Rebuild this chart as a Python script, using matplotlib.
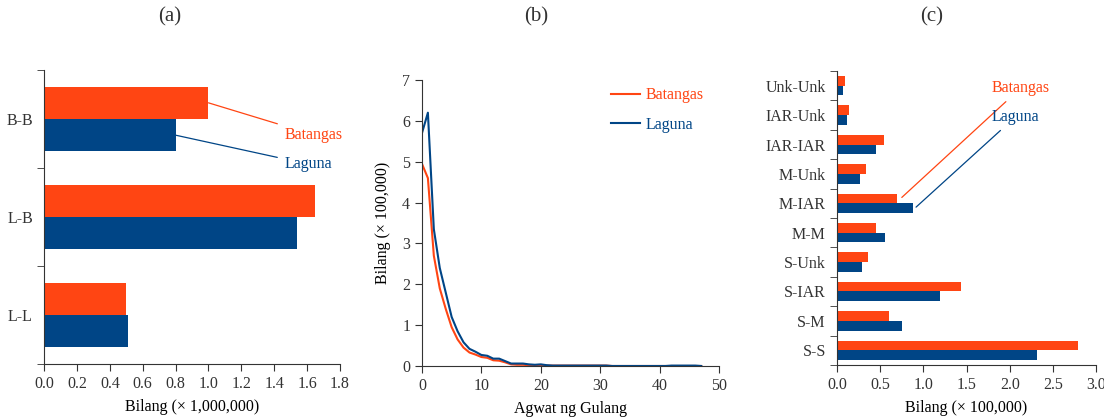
import numpy as np
import matplotlib
matplotlib.use('Agg')
import matplotlib.pyplot as plt

plt.rcParams['font.family'] = ['Liberation Serif', 'DejaVu Serif']
plt.rcParams['font.size'] = 11.5
plt.rcParams['text.color'] = '#333333'
plt.rcParams['axes.edgecolor'] = '#333333'
plt.rcParams['xtick.color'] = '#333333'
plt.rcParams['ytick.color'] = '#333333'

ORANGE = '#ff4513'
BLUE = '#004586'
FS = 11.5

# (a) pares ng rehiyon (mula ibaba pataas)
cats_a = ['L-L', 'L-B', 'B-B']
bat_a = [0.50, 1.65, 1.00]
lag_a = [0.51, 1.54, 0.80]

# (b) agwat ng gulang
agwat = list(range(48))
bat_b = [4.95, 4.60, 2.70, 1.90, 1.40, 0.95, 0.65, 0.45, 0.33, 0.28,
         0.22, 0.20, 0.14, 0.13, 0.09, 0.04, 0.03, 0.03, 0.02, 0.01,
         0.02, 0.01, 0.01, 0.01, 0.01, 0.01, 0.01, 0.01, 0.01, 0.01,
         0.01, 0.01, 0.00, 0.00, 0.00, 0.00, 0.00, 0.00, 0.00, 0.00,
         0.00, 0.00, 0.00, 0.00, 0.00, 0.00, 0.00, 0.00]
lag_b = [5.70, 6.20, 3.35, 2.40, 1.80, 1.20, 0.85, 0.58, 0.42, 0.35,
         0.27, 0.25, 0.18, 0.18, 0.12, 0.06, 0.06, 0.06, 0.04, 0.03,
         0.04, 0.02, 0.01, 0.01, 0.01, 0.01, 0.01, 0.01, 0.01, 0.01,
         0.01, 0.01, 0.00, 0.00, 0.00, 0.00, 0.00, 0.00, 0.00, 0.00,
         0.00, 0.00, 0.01, 0.01, 0.01, 0.01, 0.01, 0.00]

# (c) pares ng uri (mula ibaba pataas)
cats_c = ['S-S', 'S-M', 'S-IAR', 'S-Unk', 'M-M', 'M-IAR', 'M-Unk',
          'IAR-IAR', 'IAR-Unk', 'Unk-Unk']
bat_c = [2.79, 0.60, 1.43, 0.355, 0.45, 0.70, 0.33, 0.54, 0.14, 0.09]
lag_c = [2.32, 0.75, 1.19, 0.29, 0.56, 0.88, 0.27, 0.45, 0.116, 0.073]

fig = plt.figure(figsize=(11.04, 4.19), dpi=100)
ax1 = fig.add_axes([0.0399, 0.1313, 0.2681, 0.7016])
ax2 = fig.add_axes([0.3822, 0.1265, 0.2691, 0.6825])
ax3 = fig.add_axes([0.7582, 0.1289, 0.2346, 0.7016])


def style(ax):
    for s in ['top', 'right']:
        ax.spines[s].set_visible(False)
    ax.tick_params(direction='out', length=5, width=0.8, labelsize=FS)


def hbars(ax, cats, bat, lag, h=0.33):
    y = np.arange(len(cats))
    ax.barh(y + h / 2, bat, height=h, color=ORANGE)
    ax.barh(y - h / 2, lag, height=h, color=BLUE)
    ax.set_yticks(y)
    ax.set_yticklabels(cats)
    ax.set_yticks(np.arange(len(cats) + 1) - 0.5, minor=True)
    ax.tick_params(axis='y', which='major', length=0, pad=8)
    ax.tick_params(axis='y', which='minor', length=5, direction='out')
    ax.set_ylim(-0.5, len(cats) - 0.5)
    return y


line_kw = dict(arrowstyle='-', lw=0.9, shrinkA=3, shrinkB=0)

# (a)
style(ax1)
y = hbars(ax1, cats_a, bat_a, lag_a)
ax1.set_xlim(0, 1.8)
ax1.set_xticks(np.arange(0, 1.81, 0.2))
ax1.set_xticklabels(['%.1f' % v for v in np.arange(0, 1.81, 0.2)])
ax1.set_xlabel('Bilang (× 1,000,000)', fontsize=FS, labelpad=5)
ax1.annotate('Batangas', xy=(bat_a[2], y[2] + 0.165), xytext=(1.46, y[2] - 0.16),
             color=ORANGE, fontsize=FS, va='center',
             arrowprops=dict(color=ORANGE, **line_kw))
ax1.annotate('Laguna', xy=(lag_a[2], y[2] - 0.165), xytext=(1.46, y[2] - 0.46),
             color=BLUE, fontsize=FS, va='center',
             arrowprops=dict(color=BLUE, **line_kw))

# (b)
style(ax2)
ax2.plot(agwat, bat_b, color=ORANGE, lw=1.5, label='Batangas')
ax2.plot(agwat, lag_b, color=BLUE, lw=1.5, label='Laguna')
ax2.set_xlim(0, 50)
ax2.set_ylim(0, 7)
ax2.set_xticks(range(0, 51, 10))
ax2.set_yticks(range(0, 8))
ax2.set_xlabel('Agwat ng Gulang', fontsize=FS, labelpad=5)
ax2.set_ylabel('Bilang (× 100,000)', fontsize=FS, labelpad=8)
leg = ax2.legend(frameon=False, loc='upper left', bbox_to_anchor=(0.636, 0.974),
                 borderaxespad=0, borderpad=0, handlelength=1.8,
                 handletextpad=0.35, labelspacing=0.85, fontsize=FS)
for t, c in zip(leg.get_texts(), [ORANGE, BLUE]):
    t.set_color(c)

# (c)
style(ax3)
y = hbars(ax3, cats_c, bat_c, lag_c)
ax3.set_xlim(0, 3.0)
ax3.set_xticks(np.arange(0, 3.01, 0.5))
ax3.set_xticklabels(['%.1f' % v for v in np.arange(0, 3.01, 0.5)])
ax3.set_xlabel('Bilang (× 100,000)', fontsize=FS, labelpad=5)
ax3.annotate('Batangas', xy=(0.75, 5.2), xytext=(1.79, 8.92),
             color=ORANGE, fontsize=FS, va='center',
             arrowprops=dict(color=ORANGE, **line_kw))
ax3.annotate('Laguna', xy=(0.915, 4.87), xytext=(1.79, 7.94),
             color=BLUE, fontsize=FS, va='center',
             arrowprops=dict(color=BLUE, **line_kw))

fig.text(170 / 1104, 1 - 17 / 419, '(a)', ha='center', va='center', fontsize=15)
fig.text(536 / 1104, 1 - 17 / 419, '(b)', ha='center', va='center', fontsize=15)
fig.text(932 / 1104, 1 - 17 / 419, '(c)', ha='center', va='center', fontsize=15)

fig.savefig('out.png', dpi=100)
